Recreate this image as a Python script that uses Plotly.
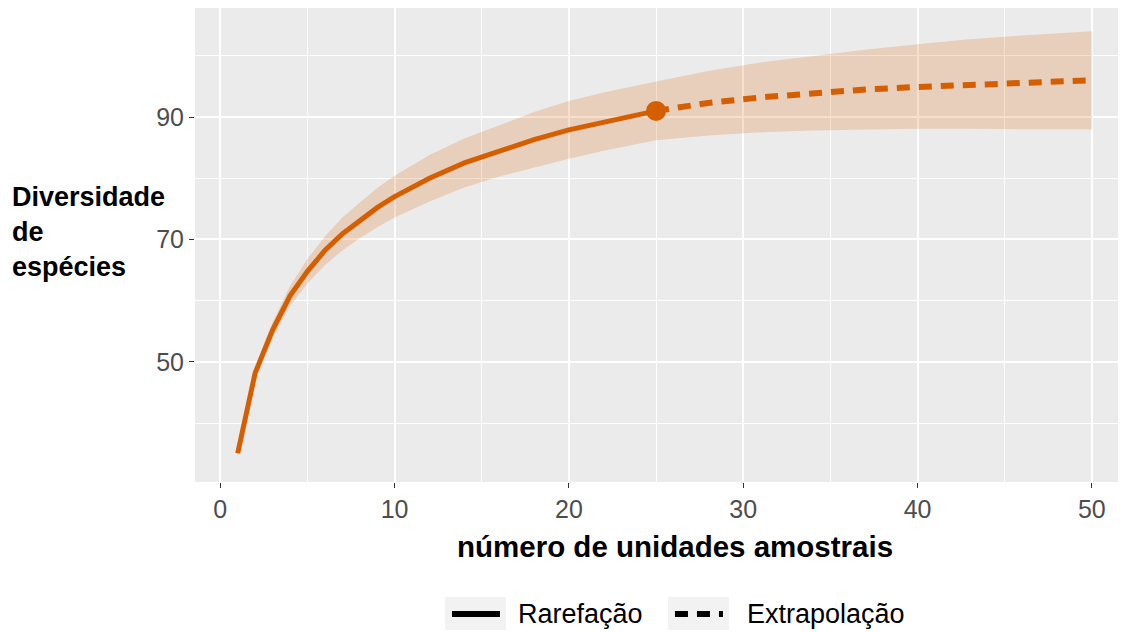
import plotly.graph_objects as go

# Rarefaction (observed) part
rare_x = [1, 2, 3, 4, 5, 6, 7, 8, 9, 10, 12, 14, 16, 18, 20, 22, 25]
rare_y = [35.1, 48.2, 55.2, 60.8, 64.8, 68.2, 70.9, 73.1, 75.2, 77.0, 80.0, 82.5, 84.5, 86.3, 87.9, 89.2, 91.0]
rare_lo = [34.5, 47.2, 54.0, 59.2, 62.8, 65.8, 68.2, 70.2, 72.0, 73.6, 76.2, 78.5, 80.3, 81.8, 83.2, 84.5, 86.2]
rare_hi = [35.7, 49.2, 56.5, 62.4, 66.8, 70.5, 73.6, 76.0, 78.4, 80.4, 83.8, 86.5, 88.7, 90.8, 92.6, 94.0, 95.8]

# Extrapolation part
extr_x = [25, 28, 31, 34, 37, 40, 43, 46, 50]
extr_y = [91.0, 92.3, 93.2, 93.9, 94.5, 94.9, 95.3, 95.6, 96.0]
extr_lo = [86.2, 87.0, 87.5, 87.8, 88.0, 88.1, 88.1, 88.0, 88.0]
extr_hi = [95.8, 97.5, 98.9, 100.0, 101.0, 101.9, 102.7, 103.3, 104.0]

obs_x = [25]
obs_y = [91.0]

x_ticks = [0, 10, 20, 30, 40, 50]
y_ticks = [50, 70, 90]

legend_labels = ["Rarefação", "Extrapolação"]

ORANGE = "#D55E00"
BAND = "rgba(213,94,0,0.2)"
DASH = "13px,9px"

band_x = rare_x + extr_x[1:]
band_lo = rare_lo + extr_lo[1:]
band_hi = rare_hi + extr_hi[1:]

fig = go.Figure()
fig.add_trace(go.Scatter(x=band_x, y=band_lo, mode="lines", line=dict(width=0),
                         showlegend=False, hoverinfo="skip"))
fig.add_trace(go.Scatter(x=band_x, y=band_hi, mode="lines", line=dict(width=0),
                         fill="tonexty", fillcolor=BAND, showlegend=False, hoverinfo="skip"))
fig.add_trace(go.Scatter(x=rare_x, y=rare_y, mode="lines", name=legend_labels[0], showlegend=False,
                         line=dict(color=ORANGE, width=5)))
fig.add_trace(go.Scatter(x=extr_x, y=extr_y, mode="lines", name=legend_labels[1], showlegend=False,
                         line=dict(color=ORANGE, width=6, dash=DASH)))
fig.add_trace(go.Scatter(x=obs_x, y=obs_y, mode="markers", showlegend=False,
                         marker=dict(color=ORANGE, size=20)))

# ggplot-style legend below the plot (grey key boxes, black keys)
LEG_Y = -0.2785
shapes = [
    dict(type="rect", xref="paper", yref="paper", x0=0.2709, x1=0.3369, y0=-0.3122, y1=-0.2426,
         fillcolor="#F2F2F2", line=dict(width=0), layer="below"),
    dict(type="rect", xref="paper", yref="paper", x0=0.5125, x1=0.5786, y0=-0.3122, y1=-0.2426,
         fillcolor="#F2F2F2", line=dict(width=0), layer="below"),
    dict(type="line", xref="paper", yref="paper", x0=0.2784, x1=0.3304, y0=LEG_Y, y1=LEG_Y,
         line=dict(color="black", width=6)),
    dict(type="line", xref="paper", yref="paper", x0=0.5200, x1=0.5720, y0=LEG_Y, y1=LEG_Y,
         line=dict(color="black", width=6, dash=DASH)),
]

# page body has an 8px default margin: compensate so the panel sits where it should
fig.update_layout(
    width=1118, height=624,
    margin=dict(l=187, r=8, t=0, b=150),
    paper_bgcolor="white",
    plot_bgcolor="#EBEBEB",
    font=dict(family="Liberation Sans, Arial, sans-serif", color="#000000"),
    showlegend=False,
    shapes=shapes,
    xaxis=dict(range=[-1.45, 51.5], tickvals=x_ticks, ticktext=[str(v) for v in x_ticks],
               showgrid=True, gridcolor="white", gridwidth=1.5,
               minor=dict(dtick=5, tick0=0, showgrid=True, gridcolor="white", gridwidth=0.7),
               zeroline=False, showline=False,
               ticks="outside", ticklen=5, tickcolor="#333333", tickwidth=1.2,
               tickfont=dict(family="Liberation Sans, sans-serif", size=25, color="#4D4D4D")),
    yaxis=dict(range=[30.4, 107.8], tickvals=y_ticks, ticktext=[str(v) for v in y_ticks],
               showgrid=True, gridcolor="white", gridwidth=1.5,
               minor=dict(dtick=10, tick0=0, showgrid=True, gridcolor="white", gridwidth=0.7),
               zeroline=False, showline=False,
               ticks="outside", ticklen=5, tickcolor="#333333", tickwidth=1.2,
               tickfont=dict(family="Liberation Sans, Arial, sans-serif", size=25, color="#4D4D4D")),
    annotations=[
        dict(text="<b>número de unidades amostrais</b>", xref="paper", yref="paper",
             x=0.52, y=-0.137, xanchor="center", yanchor="middle", showarrow=False,
             font=dict(size=29.5, color="#000000")),
        dict(text="<b>Diversidade<br>de<br>espécies</b>", xref="paper", yref="paper",
             x=-0.2004, y=0.527, xanchor="left", yanchor="middle", align="left",
             showarrow=False, font=dict(size=27, color="#000000")),
        dict(text=legend_labels[0], xref="paper", yref="paper", x=0.3478, y=LEG_Y,
             xanchor="left", yanchor="middle", showarrow=False, font=dict(size=27, color="#000000")),
        dict(text=legend_labels[1], xref="paper", yref="paper", x=0.5959, y=LEG_Y,
             xanchor="left", yanchor="middle", showarrow=False, font=dict(size=27, color="#000000")),
    ],
)

fig.write_html("out.html")
